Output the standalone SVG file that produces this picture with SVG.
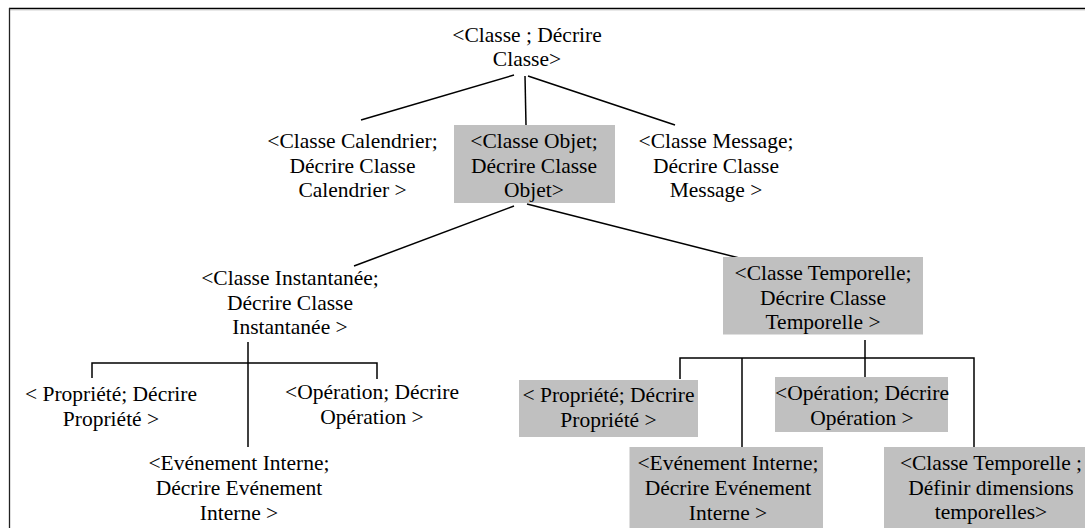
<svg xmlns="http://www.w3.org/2000/svg" width="1085" height="528" viewBox="0 0 1085 528">
<style>
  .t text { font-size: 21.5px; fill: #000; text-anchor: middle; }
  .box { fill: #c0c0c0; stroke: none; }
  .conn line, .conn path { stroke: #000; stroke-width: 1.5; fill: none; }
</style>
<rect x="0" y="0" width="1085" height="528" fill="#fff"/>
<g id="frame">
  <line x1="9" y1="8.5" x2="1085" y2="8.5" stroke="#000" stroke-width="1.4"/>
  <line x1="10" y1="9.9" x2="1085" y2="9.9" stroke="#bdbdbd" stroke-width="0.9"/>
  <line x1="9.5" y1="8" x2="9.5" y2="528" stroke="#222" stroke-width="1.3"/>
</g>
<g id="connectors" class="conn">
  <line x1="514" y1="75" x2="361" y2="120"/>
  <line x1="525" y1="76" x2="526" y2="125"/>
  <line x1="528" y1="76" x2="675" y2="125"/>
  <line x1="514" y1="206" x2="354" y2="266"/>
  <line x1="527" y1="204" x2="755" y2="262"/>
  <line x1="248" y1="342" x2="248" y2="447"/>
  <path d="M92,378 V363 H377 V379"/>
  <line x1="865" y1="340" x2="865" y2="377"/>
  <path d="M680,379 V358 H974 V447"/>
  <line x1="742" y1="358" x2="742" y2="447"/>
</g>
<g class="t" font-family="'Liberation Serif', 'Times New Roman', Times, 'DejaVu Serif', serif">
<g id="n-root">
  <text x="527" y="42">&lt;Classe ; Décrire</text>
  <text x="527" y="66">Classe&gt;</text>
</g>
<g id="n-calendrier">
  <text x="352.5" y="148">&lt;Classe Calendrier;</text>
  <text x="352.5" y="172.5">Décrire Classe</text>
  <text x="352.5" y="197">Calendrier &gt;</text>
</g>
<g id="n-objet">
  <rect class="box" x="454" y="125" width="161" height="78"/>
  <text x="534" y="148">&lt;Classe Objet;</text>
  <text x="534" y="172.5">Décrire Classe</text>
  <text x="534" y="197">Objet&gt;</text>
</g>
<g id="n-message">
  <text x="716" y="148">&lt;Classe Message;</text>
  <text x="716" y="172.5">Décrire Classe</text>
  <text x="716" y="197">Message &gt;</text>
</g>
<g id="n-instantanee">
  <text x="290" y="285">&lt;Classe Instantanée;</text>
  <text x="290" y="309.5">Décrire Classe</text>
  <text x="290" y="334">Instantanée &gt;</text>
</g>
<g id="n-temporelle">
  <rect class="box" x="723" y="257" width="200" height="77.5"/>
  <text x="823" y="280">&lt;Classe Temporelle;</text>
  <text x="823" y="304.5">Décrire Classe</text>
  <text x="823" y="329">Temporelle &gt;</text>
</g>
<g id="n-propriete-i">
  <text x="111" y="401">&lt; Propriété; Décrire</text>
  <text x="111" y="426">Propriété &gt;</text>
</g>
<g id="n-operation-i">
  <text x="372" y="399">&lt;Opération; Décrire</text>
  <text x="372" y="424">Opération &gt;</text>
</g>
<g id="n-evenement-i">
  <text x="239" y="470">&lt;Evénement Interne;</text>
  <text x="239" y="495">Décrire Evénement</text>
  <text x="239" y="520">Interne &gt;</text>
</g>
<g id="n-propriete-t">
  <rect class="box" x="519" y="380" width="179" height="57"/>
  <text x="608.5" y="401.5">&lt; Propriété; Décrire</text>
  <text x="608.5" y="426.5">Propriété &gt;</text>
</g>
<g id="n-operation-t">
  <rect class="box" x="775" y="377" width="173" height="55"/>
  <text x="862" y="400">&lt;Opération; Décrire</text>
  <text x="862" y="425">Opération &gt;</text>
</g>
<g id="n-evenement-t">
  <rect class="box" x="629.5" y="447" width="193.5" height="81"/>
  <text x="728" y="470">&lt;Evénement Interne;</text>
  <text x="728" y="495">Décrire Evénement</text>
  <text x="728" y="520">Interne &gt;</text>
</g>
<g id="n-dimensions">
  <rect class="box" x="884" y="447" width="201" height="81"/>
  <text x="991" y="470">&lt;Classe Temporelle ;</text>
  <text x="991" y="495">Définir dimensions</text>
  <text x="991" y="519">temporelles&gt;</text>
</g>
</g>
</svg>
